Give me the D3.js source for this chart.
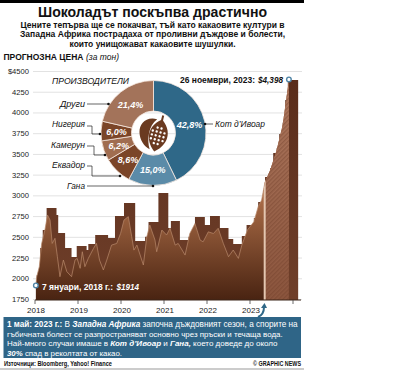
<!DOCTYPE html>
<html>
<head>
<meta charset="utf-8">
<style>
html, body { margin: 0; padding: 0; background: #fff; }
svg { display: block; font-family: "Liberation Sans", Arial, sans-serif; }
</style>
<script src="https://d3js.org/d3.v7.min.js"></script>
</head>
<body>
<script>
// weekly-ish price
var priceYears = [2018.02,2018.04,2018.10,2018.155,2018.23,2018.29,2018.35,2018.40,2018.465,2018.52,2018.58,2018.66,2018.74,2018.85,2018.93,2018.98,
  2019.05,2019.10,2019.16,2019.24,2019.36,2019.43,2019.50,2019.59,2019.67,2019.78,2019.90,2019.99,
  2020.07,2020.17,2020.25,2020.30,2020.37,2020.52,2020.60,2020.67,2020.79,2020.83,2020.95,
  2021.06,2021.14,2021.26,2021.33,2021.49,2021.60,2021.72,2021.84,2021.91,
  2022.03,2022.15,2022.26,2022.38,2022.50,2022.61,2022.73,2022.81,2022.94,
  2023.09,2023.19,2023.27,2023.35,2023.47,2023.62,2023.76,2023.85,2023.89,2023.905];
var priceValues = [1914,2019,2140,2420,2582,2763,2703,2420,2482,2260,2019,2220,2080,2019,2220,2240,
  2120,2320,2140,2240,2360,2420,2220,2100,2220,2400,2420,2540,
  2703,2743,2500,2340,2400,2160,2500,2642,2461,2320,2582,
  2522,2603,2400,2420,2280,2540,2660,2461,2440,
  2560,2540,2603,2420,2260,2341,2240,2400,2582,
  2682,2863,2944,3165,3306,3547,3848,4190,4331,4398];
// dark stepped layer behind the price
var stepYears = [2018.04,2018.12,2018.18,2018.27,2018.50,2018.54,2018.70,2018.85,2018.97,2019.20,2019.24,2019.40,2019.70,2019.86,
  2020.07,2020.33,2020.56,2020.64,2020.87,2021.10,2021.16,2021.37,2021.57,2021.72,2021.95,
  2022.07,2022.30,2022.50,2022.61,2022.81,2022.92,2023.09,2023.19,2023.31,2023.35,2023.47,2023.54,2023.62,2023.68,2023.76,2023.82,2023.88,2024.12];
var stepValues = [2039,2365,2582,2847,2763,2546,2365,2256,2389,2341,2413,2522,2486,2751,
  2908,2449,2500,2679,3028,2606,2691,2461,2500,2739,2642,
  2751,2606,2474,2413,2510,2642,2727,2920,3064,3221,3330,3511,3570,3740,3880,4150,4391,4391];

var yTicks = [1750,2000,2250,2500,2750,3000,3250,3500,3750,4000,4250,4500];
var yearTicks = [2018,2019,2020,2021,2022,2023,2024];
var yearLabels = [2018,2019,2020,2021,2022,2023];

var shareNames = ["Кот д’Ивоар","Гана","Еквадор","Камерун","Нигерия","Други"];
var shareValues = [42.8,15.0,8.6,6.2,6.0,21.4];
var shareColors = ["#2f6888","#5b8ba8","#7b4528","#a06d50","#7b4528","#a3735a"];

var subtitleLines = ["Цените тепърва ще се покачват, тъй като какаовите култури в",
  "Западна Африка пострадаха от проливни дъждове и болести,",
  "които унищожават какаовите шушулки."];

var svg = d3.select("body").append("svg").attr("width",405).attr("height",370);
var defs = svg.append("defs");

var x = d3.scaleLinear().domain([2018,2024]).range([35,293]);
var y = d3.scaleLinear().domain([1750,4500]).range([299,71]);

function addGrad(id,y1,y2,c1,c2){
	var g = defs.append("linearGradient").attr("id",id).attr("gradientUnits","userSpaceOnUse")
		.attr("x1",0).attr("x2",0).attr("y1",y1).attr("y2",y2);
	g.append("stop").attr("offset",0).attr("stop-color",c1);
	g.append("stop").attr("offset",1).attr("stop-color",c2);
}
addGrad("lightFill",195,299,"#ad6e48","#4a2412");
addGrad("hatchFill",80,299,"#b07a60","#8c563e");
addGrad("darkFill",80,299,"#5a2d1b","#6f3f2a");

var pat = defs.append("pattern").attr("id","hatch").attr("width",3).attr("height",3)
	.attr("patternUnits","userSpaceOnUse").attr("patternTransform","rotate(45)");
pat.append("rect").attr("width",1.4).attr("height",3).attr("fill","#6f3d28").attr("opacity",0.4);

// top bar and bottom rule
svg.append("rect").attr("x",0).attr("y",0).attr("width",304).attr("height",3).attr("fill","#000");
svg.append("rect").attr("x",0).attr("y",368.5).attr("width",304).attr("height",1).attr("fill","#999");

function label(txt,px,py,size,opt){
	opt = opt || {};
	var t = svg.append("text").attr("x",px).attr("y",py).attr("font-size",size)
		.attr("fill",opt.fill || "#111").attr("text-anchor",opt.anchor || "start")
		.attr("font-weight",opt.weight || "normal").attr("font-style",opt.style || "normal").text(txt);
	if(opt.len) t.attr("textLength",opt.len).attr("lengthAdjust","spacingAndGlyphs");
	return t;
}

label("Шоколадът поскъпва драстично",152.5,16.5,14,{anchor:"middle",weight:"bold",len:229});
var subLens = [264,265,166];
subtitleLines.forEach(function(s,i){
	label(s,152.5,27.5+i*9.5,8.4,{anchor:"middle",weight:"bold",len:subLens[i]});
});
label("ПРОГНОЗНА ЦЕНА",3.5,60,9,{weight:"bold",len:80});
label("(за тон)",86,60,8.5,{style:"italic",len:33});

// grid
svg.append("g").selectAll("line").data(yTicks).join("line")
	.attr("x1",33).attr("x2",302).attr("y1",function(d){return y(d)+0.5;}).attr("y2",function(d){return y(d)+0.5;})
	.attr("stroke","#e2e2e2").attr("stroke-width",1);
svg.append("g").selectAll("text").data(yTicks).join("text")
	.attr("x",29).attr("y",function(d){return y(d)+3;}).attr("text-anchor","end").attr("font-size",7.6).attr("fill","#222")
	.text(function(d){return d==4500 ? "$4500" : d;});

// dark stepped layer
var stepRows = stepYears.map(function(d,i){return {t:d,v:stepValues[i]};});
var stepArea = d3.area().curve(d3.curveStepAfter).x(function(d){return x(d.t);}).y0(y(1750)+1).y1(function(d){return y(d.v);});
svg.append("path").datum(stepRows).attr("d",stepArea).attr("fill","url(#darkFill)");

// price area
var rows = priceYears.map(function(d,i){return {t:d,v:priceValues[i]};});
var area = d3.area().x(function(d){return x(d.t);}).y0(y(1750)+1).y1(function(d){return y(d.v);});
var line = d3.line().x(function(d){return x(d.t);}).y(function(d){return y(d.v);});
defs.append("clipPath").attr("id","priceClip").append("path").datum(rows).attr("d",area);

svg.append("path").datum(rows).attr("d",area).attr("fill","url(#lightFill)");
svg.append("path").datum(rows.filter(function(d){return d.t<=2023.35;})).attr("d",line).attr("fill","none").attr("stroke","#b98a6c").attr("stroke-width",0.7);

// rainy season from 1 May 2023: hatched, with a pale edge
var hatch = svg.append("g").attr("clip-path","url(#priceClip)");
hatch.append("rect").attr("x",x(2023.33)).attr("y",70).attr("width",40).attr("height",230).attr("fill","url(#hatchFill)");
hatch.append("rect").attr("x",x(2023.33)).attr("y",70).attr("width",40).attr("height",230).attr("fill","url(#hatch)");
hatch.append("rect").attr("x",x(2023.33)-0.5).attr("y",70).attr("width",2).attr("height",230).attr("fill","#e3c6b0");

// x axis
svg.append("line").attr("x1",35).attr("x2",301).attr("y1",300).attr("y2",300).attr("stroke","#3a2418").attr("stroke-width",1);
svg.append("g").selectAll("line").data(yearTicks).join("line")
	.attr("x1",function(d){return x(d);}).attr("x2",function(d){return x(d);}).attr("y1",300).attr("y2",304)
	.attr("stroke","#444").attr("stroke-width",0.8);
svg.append("g").selectAll("text").data(yearLabels).join("text")
	.attr("x",function(d){return x(d)+1;}).attr("y",313).attr("text-anchor","middle").attr("font-size",8).attr("fill","#222")
	.text(function(d){return d;});

// donut
var pie = d3.pie().sort(null).value(function(d){return d;});
var arc = d3.arc().innerRadius(22).outerRadius(52.5);
var donut = svg.append("g").attr("transform","translate(153.5,133)");
var arcs = pie(shareValues);
donut.selectAll("path").data(arcs).join("path").attr("d",arc)
	.attr("fill",function(d,i){return shareColors[i];}).attr("stroke","#f6e9df").attr("stroke-width",0.8);
var labelArc = d3.arc().innerRadius(37).outerRadius(37);
donut.selectAll("text").data(arcs).join("text")
	.attr("transform",function(d){var c=labelArc.centroid(d);return "translate("+c[0]+","+(c[1]+3.5)+")";})
	.attr("text-anchor","middle").attr("font-size",9).attr("font-weight","bold").attr("font-style","italic").attr("fill","#fff")
	.text(function(d){return d3.format(".1f")(d.value).replace(".",",")+"%";});

// cocoa pod icon
var pod = donut.append("g").attr("transform","translate(1,1) rotate(14)");
pod.append("path").attr("d","M-1,-15 C-13,-15 -17,-6 -15,2 C-13,9 -7,15 -1,16 C-6,8 -8,-7 -1,-15 Z").attr("fill","#6a3a20");
pod.append("path").attr("d","M4,-16 C12,-10 14,-3 13,3 C12,9 8,14 4,17 C0,14 -4,9 -5,3 C-6,-3 -4,-10 4,-16 Z").attr("fill","#6a3a20");
pod.append("path").attr("d","M3,-20 L5,-20 L5,-14 L3,-14 Z").attr("fill","#6a3a20");
[-8,-4,0,4,8].forEach(function(py){
	[-2,2,6,10].forEach(function(px){
		if(Math.abs(py)==8 && (px==-2 || px==10)) return;
		pod.append("circle").attr("cx",px-0.5).attr("cy",py+1).attr("r",1.2).attr("fill","#fff");
	});
});

// producer labels
label("ПРОИЗВОДИТЕЛИ",52,83.5,9.5,{style:"italic",len:77});
var leaders = [
	{name:"Други",ty:107,len:25,pts:[[87,104],[108.5,104]]},
	{name:"Нигерия",ty:127,len:33,pts:[[87,126],[92,126],[92,134],[100,134]]},
	{name:"Камерун",ty:148,len:34,pts:[[87,146],[94,146],[94,155],[105,155]]},
	{name:"Еквадор",ty:168,len:33,pts:[[87,166],[92,166],[92,176],[120,176]]},
	{name:"Гана",ty:189,len:18,pts:[[87,186],[153,186]]},
	{name:"",ty:0,len:0,pts:[[213,124],[205,124]]}
];
leaders.forEach(function(d){
	if(d.name) label(d.name,85,d.ty,9,{style:"italic",anchor:"end",len:d.len});
	svg.append("path").attr("d",d3.line()(d.pts)).attr("fill","none").attr("stroke","#222").attr("stroke-width",0.7);
	var e = d.pts[d.pts.length-1];
	svg.append("circle").attr("cx",e[0]).attr("cy",e[1]).attr("r",1.3).attr("fill","#111");
});
label(shareNames[0],215,127,9,{style:"italic",len:50});

// end point marks
function ring(t,v){
	svg.append("circle").attr("cx",x(t)).attr("cy",y(v)).attr("r",2.3).attr("fill","#fff").attr("stroke","#4f84a6").attr("stroke-width",1.4);
}
ring(2023.905,4398);
ring(2018.02,1914);
label("26 ноември, 2023:",180,83,8.8,{weight:"bold",len:75});
label("$4,398",258,83,8.8,{weight:"bold",style:"italic",len:25});
label("7 януари, 2018 г.:",42,290,8.8,{weight:"bold",fill:"#fff",len:71});
label("$1914",116.5,290,8.8,{weight:"bold",style:"italic",fill:"#fff",len:22.5});

// arrow from the note up to the pale edge
svg.append("path").attr("d","M258,317 C263,315 264,311 264,307").attr("fill","none").attr("stroke","#2f6888").attr("stroke-width",2);
svg.append("path").attr("d","M261,308 L264.5,303 L267,308 Z").attr("fill","#2f6888");

// note box, each line sized to fit its measured width
svg.append("rect").attr("x",3.5).attr("y",317).attr("width",297.5).attr("height",41).attr("fill","#2f6587");
function noteLine(py,parts,len){
	var t = svg.append("text").attr("x",7).attr("y",py).attr("font-size",8).attr("fill","#fff");
	parts.forEach(function(p){
		t.append("tspan").attr("font-weight",p[1] ? "bold" : "normal").attr("font-style",p[2] ? "italic" : "normal").text(p[0]);
	});
	t.attr("font-size",8*len/t.node().getComputedTextLength());
}
noteLine(327,[["1 май: 2023 г.:",1,0],["  В ",0,0],["Западна Африка",1,1],[" започна дъждовният сезон, а спорите на",0,0]],291);
noteLine(336.5,[["гъбичната болест се разпространяват основно чрез пръски и течаща вода.",0,0]],276);
noteLine(346,[["Най-много случаи имаше в ",0,0],["Кот д’Ивоар",1,1],[" и ",0,0],["Гана,",1,1],[" което доведе до около",0,0]],271);
noteLine(355.5,[["30%",1,1],[" спад в реколтата от какао.",0,0]],115);

// footer
label("Източници: Bloomberg, Yahoo! Finance",4,366,6.6,{weight:"bold",len:108});
label("© GRAPHIC NEWS",301,366,6.4,{weight:"bold",anchor:"end",len:48});
</script>
</body>
</html>
